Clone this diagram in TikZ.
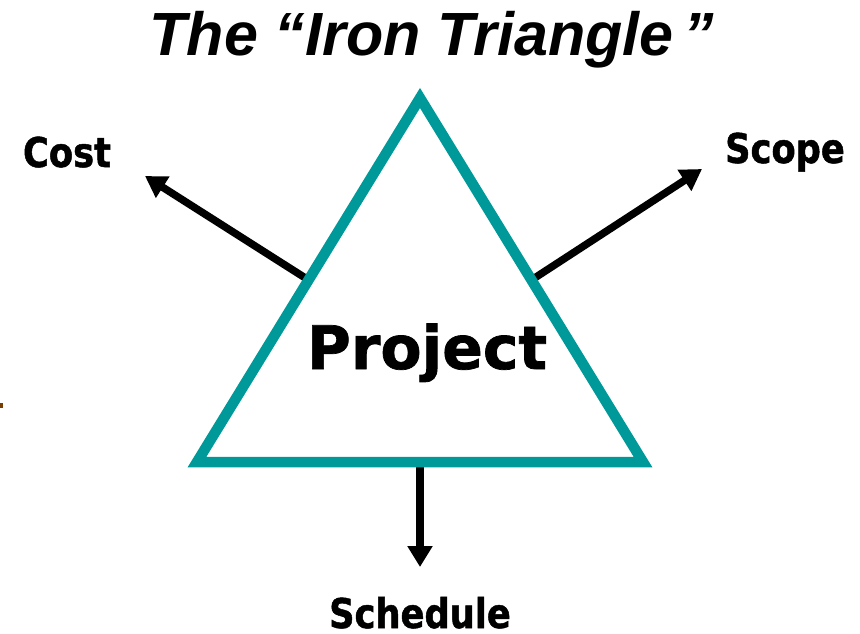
\documentclass[tikz,border=0pt]{standalone}
\usepackage{fontspec}
\usepackage{xcolor}
\usepackage{tikz}
\usetikzlibrary{arrows.meta,calc}
\newfontfamily\labelfont[FakeStretch=0.86,FakeBold=1.2]{DejaVu Sans}
\newfontfamily\projfont[FakeBold=1.2]{DejaVu Sans}
\newfontfamily\titlefont{Liberation Sans}
\definecolor{ironteal}{RGB}{0,153,153}
\definecolor{markbrown}{RGB}{122,61,0}

\begin{document}
\begin{tikzpicture}[
        x=1pt, y=-1pt,
        side_edge/.style={
            draw=ironteal,
            line width=10.5pt,
            line join=miter
        },
        pull_arrow/.style={
            draw=black,
            line width=7.5pt,
            -{Triangle[length=21pt,width=24pt]}
        },
        corner_label/.style={
            anchor=base,
            inner sep=0pt,
            font=\labelfont\bfseries\fontsize{41}{41}\selectfont
        }
    ]
        \useasboundingbox (0,0) rectangle (860,633);

        % Corners
        \coordinate (apex) at (420,98);
        \coordinate (bl) at (197,462);
        \coordinate (br) at (643,462);

        % Edge midpoints and arrow tips
        \coordinate (mleft) at ($(apex)!0.5!(bl)$);
        \coordinate (mright) at ($(apex)!0.5!(br)$);
        \coordinate (mbottom) at ($(bl)!0.5!(br)$);
        \coordinate (tcost) at (145,176);
        \coordinate (tscope) at (702,169);
        \coordinate (tsched) at (420,567);

        % Labels
        \node[anchor=base, inner sep=0pt,
              font=\titlefont\bfseries\itshape\fontsize{61}{61}\selectfont]
              (title) at (432,55) {The “Iron Triangle\,”};
        \node[corner_label] (cost) at (67,167) {Cost};
        \node[corner_label] (scope) at (785,163) {Scope};
        \node[corner_label] (sched) at (420,628) {Schedule};
        \node[anchor=base, inner sep=0pt,
              font=\projfont\bfseries\fontsize{60}{60}\selectfont]
              (proj) at (427,369) {Project};

        % Arrows
        \draw[pull_arrow] (mleft) -- (tcost);
        \draw[pull_arrow] (mright) -- (tscope);
        \draw[pull_arrow] (mbottom) -- (tsched);

        % Triangle
        \draw[side_edge] (apex) -- (bl) -- (br) -- cycle;

        % Margin mark
        \fill[markbrown] (0,403) rectangle (3,408);
    \end{tikzpicture}
\end{document}
